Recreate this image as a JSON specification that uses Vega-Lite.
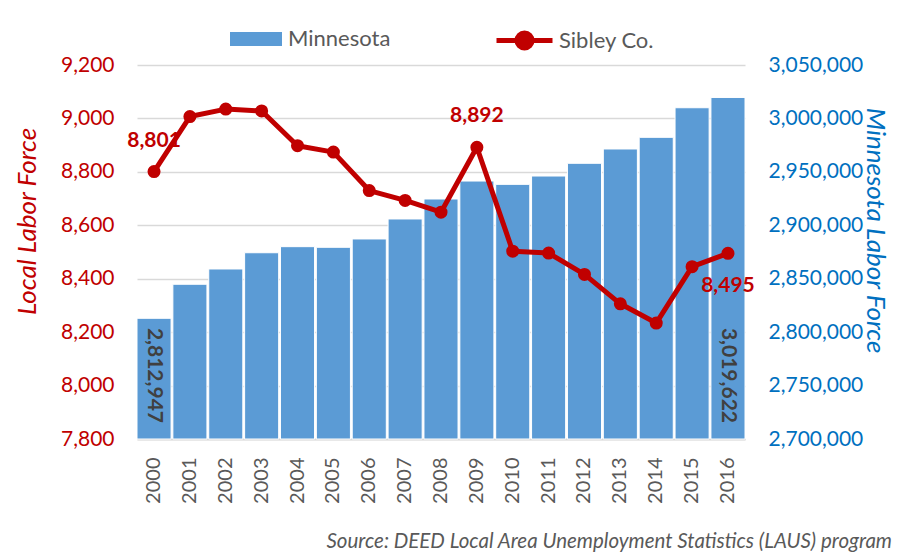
{
  "$schema": "https://vega.github.io/schema/vega-lite/v6.json",
  "width": 608,
  "height": 374,
  "autosize": {"type": "none"},
  "padding": {"left": 137, "top": 65, "right": 154, "bottom": 118},
  "background": "white",
  "config": {
    "view": {"stroke": null},
    "font": "Lato",
    "axis": {"labelFont": "Lato", "titleFont": "Lato"},
    "legend": {"labelFont": "Lato"}
  },
  "title": {
    "text": "Source: DEED Local Area Unemployment Statistics (LAUS) program",
    "orient": "bottom",
    "anchor": "end",
    "frame": "bounds",
    "font": "Lato",
    "fontSize": 20.5,
    "fontStyle": "italic",
    "fontWeight": "normal",
    "color": "#595959",
    "dx": 5,
    "offset": 29
  },
  "data": {
    "values": [
      {"year": "2000", "minnesota": 2812947, "sibley": 8801},
      {"year": "2001", "minnesota": 2844800, "sibley": 9007},
      {"year": "2002", "minnesota": 2859100, "sibley": 9035},
      {"year": "2003", "minnesota": 2874300, "sibley": 9028},
      {"year": "2004", "minnesota": 2880000, "sibley": 8898},
      {"year": "2005", "minnesota": 2879400, "sibley": 8874},
      {"year": "2006", "minnesota": 2887200, "sibley": 8730},
      {"year": "2007", "minnesota": 2905900, "sibley": 8693},
      {"year": "2008", "minnesota": 2924600, "sibley": 8649},
      {"year": "2009", "minnesota": 2941400, "sibley": 8892},
      {"year": "2010", "minnesota": 2938300, "sibley": 8503},
      {"year": "2011", "minnesota": 2946100, "sibley": 8496},
      {"year": "2012", "minnesota": 2958000, "sibley": 8416},
      {"year": "2013", "minnesota": 2971400, "sibley": 8306},
      {"year": "2014", "minnesota": 2982300, "sibley": 8234},
      {"year": "2015", "minnesota": 3010000, "sibley": 8445},
      {"year": "2016", "minnesota": 3019622, "sibley": 8495}
    ]
  },
  "encoding": {
    "x": {
      "field": "year",
      "type": "ordinal",
      "scale": {"paddingInner": 0.05, "paddingOuter": 0},
      "axis": {
        "title": null,
        "labelAngle": -90,
        "labelFontSize": 20,
        "labelColor": "#595959",
        "labelPadding": 18,
        "ticks": false,
        "domain": true,
        "domainColor": "#D9D9D9",
        "domainWidth": 2
      }
    }
  },
  "layer": [
    {
      "layer": [
        {
          "mark": {"type": "bar", "stroke": "white", "strokeWidth": 1},
          "encoding": {
            "y": {
              "field": "minnesota",
              "type": "quantitative",
              "scale": {"domain": [2700000, 3050000], "zero": false, "nice": false},
              "axis": {
                "orient": "right",
                "title": "Minnesota Labor Force",
                "titleFontSize": 26,
                "titleFontStyle": "italic",
                "titleFontWeight": "normal",
                "titleColor": "#0070C0",
                "titleBaseline": "alphabetic",
                "titleX": 121,
                "titleY": 165,
                "values": [2700000, 2750000, 2800000, 2850000, 2900000, 2950000, 3000000, 3050000],
                "format": ",.0f",
                "labelFontSize": 21,
                "labelColor": "#0070C0",
                "labelPadding": 23,
                "ticks": false,
                "domain": false,
                "grid": false
              }
            },
            "y2": {"datum": 2700000},
            "fill": {
              "datum": "Minnesota",
              "scale": {"domain": ["Minnesota"], "range": ["#5B9BD5"]},
              "legend": {
                "title": null,
                "orient": "none",
                "legendX": 93,
                "legendY": -52,
                "padding": 0,
                "symbolType": "M-1,-0.27H1V0.27H-1Z",
                "symbolSize": 2704,
                "symbolStrokeWidth": 0,
                "labelFontSize": 22,
                "labelColor": "#595959",
                "labelOffset": 6
              }
            }
          }
        },
        {
          "transform": [{"filter": {"field": "year", "oneOf": ["2000", "2016"]}}],
          "mark": {
            "type": "text",
            "angle": 90,
            "align": "right",
            "baseline": "middle",
            "dx": -16,
            "font": "Lato",
            "fontSize": 21,
            "fontWeight": "bold",
            "color": "#404040"
          },
          "encoding": {
            "y": {"datum": 2700000},
            "text": {"field": "minnesota", "type": "quantitative", "format": ",.0f"}
          }
        }
      ]
    },
    {
      "layer": [
        {
          "mark": {"type": "line", "strokeWidth": 5, "strokeJoin": "round"},
          "encoding": {
            "y": {
              "field": "sibley",
              "type": "quantitative",
              "scale": {"domain": [7800, 9200], "zero": false, "nice": false},
              "axis": {
                "orient": "left",
                "title": "Local Labor Force",
                "titleFontSize": 26,
                "titleFontStyle": "italic",
                "titleFontWeight": "normal",
                "titleColor": "#C00000",
                "titleBaseline": "alphabetic",
                "titleX": -102,
                "titleY": 156,
                "values": [7800, 8000, 8200, 8400, 8600, 8800, 9000, 9200],
                "format": ",.0f",
                "labelFontSize": 21,
                "labelColor": "#C00000",
                "labelPadding": 23,
                "ticks": false,
                "domain": false,
                "grid": true,
                "gridColor": "#D9D9D9",
                "gridWidth": 1.5
              }
            },
            "stroke": {
              "datum": "Sibley Co.",
              "scale": {"domain": ["Sibley Co."], "range": ["#C00000"]},
              "legend": {
                "title": null,
                "orient": "none",
                "legendX": 357,
                "legendY": -55,
                "padding": 0,
                "symbolType": "M-1,0H1M0.27,0A0.27,0.27,0,1,1,-0.27,0A0.27,0.27,0,1,1,0.27,0Z",
                "symbolSize": 3136,
                "symbolStrokeWidth": 5,
                "labelFontSize": 22,
                "labelColor": "#595959",
                "labelOffset": 4,
                "encode": {"symbols": {"update": {"fill": {"value": "#C00000"}, "strokeWidth": {"value": 5}}}}
              }
            }
          }
        },
        {
          "mark": {"type": "point", "filled": true, "shape": "circle", "size": 170, "color": "#C00000", "opacity": 1},
          "encoding": {
            "y": {"field": "sibley", "type": "quantitative"}
          }
        },
        {
          "transform": [{"filter": {"field": "year", "oneOf": ["2000", "2009"]}}],
          "mark": {"type": "text", "dy": -31, "align": "center", "baseline": "middle", "font": "Lato", "fontSize": 21, "fontWeight": "bold", "color": "#C00000"},
          "encoding": {
            "y": {"field": "sibley", "type": "quantitative"},
            "text": {"field": "sibley", "type": "quantitative", "format": ",.0f"}
          }
        },
        {
          "transform": [{"filter": {"field": "year", "oneOf": ["2016"]}}],
          "mark": {"type": "text", "dy": 33, "align": "center", "baseline": "middle", "font": "Lato", "fontSize": 21, "fontWeight": "bold", "color": "#C00000"},
          "encoding": {
            "y": {"field": "sibley", "type": "quantitative"},
            "text": {"field": "sibley", "type": "quantitative", "format": ",.0f"}
          }
        }
      ]
    }
  ],
  "resolve": {"scale": {"y": "independent"}}
}
